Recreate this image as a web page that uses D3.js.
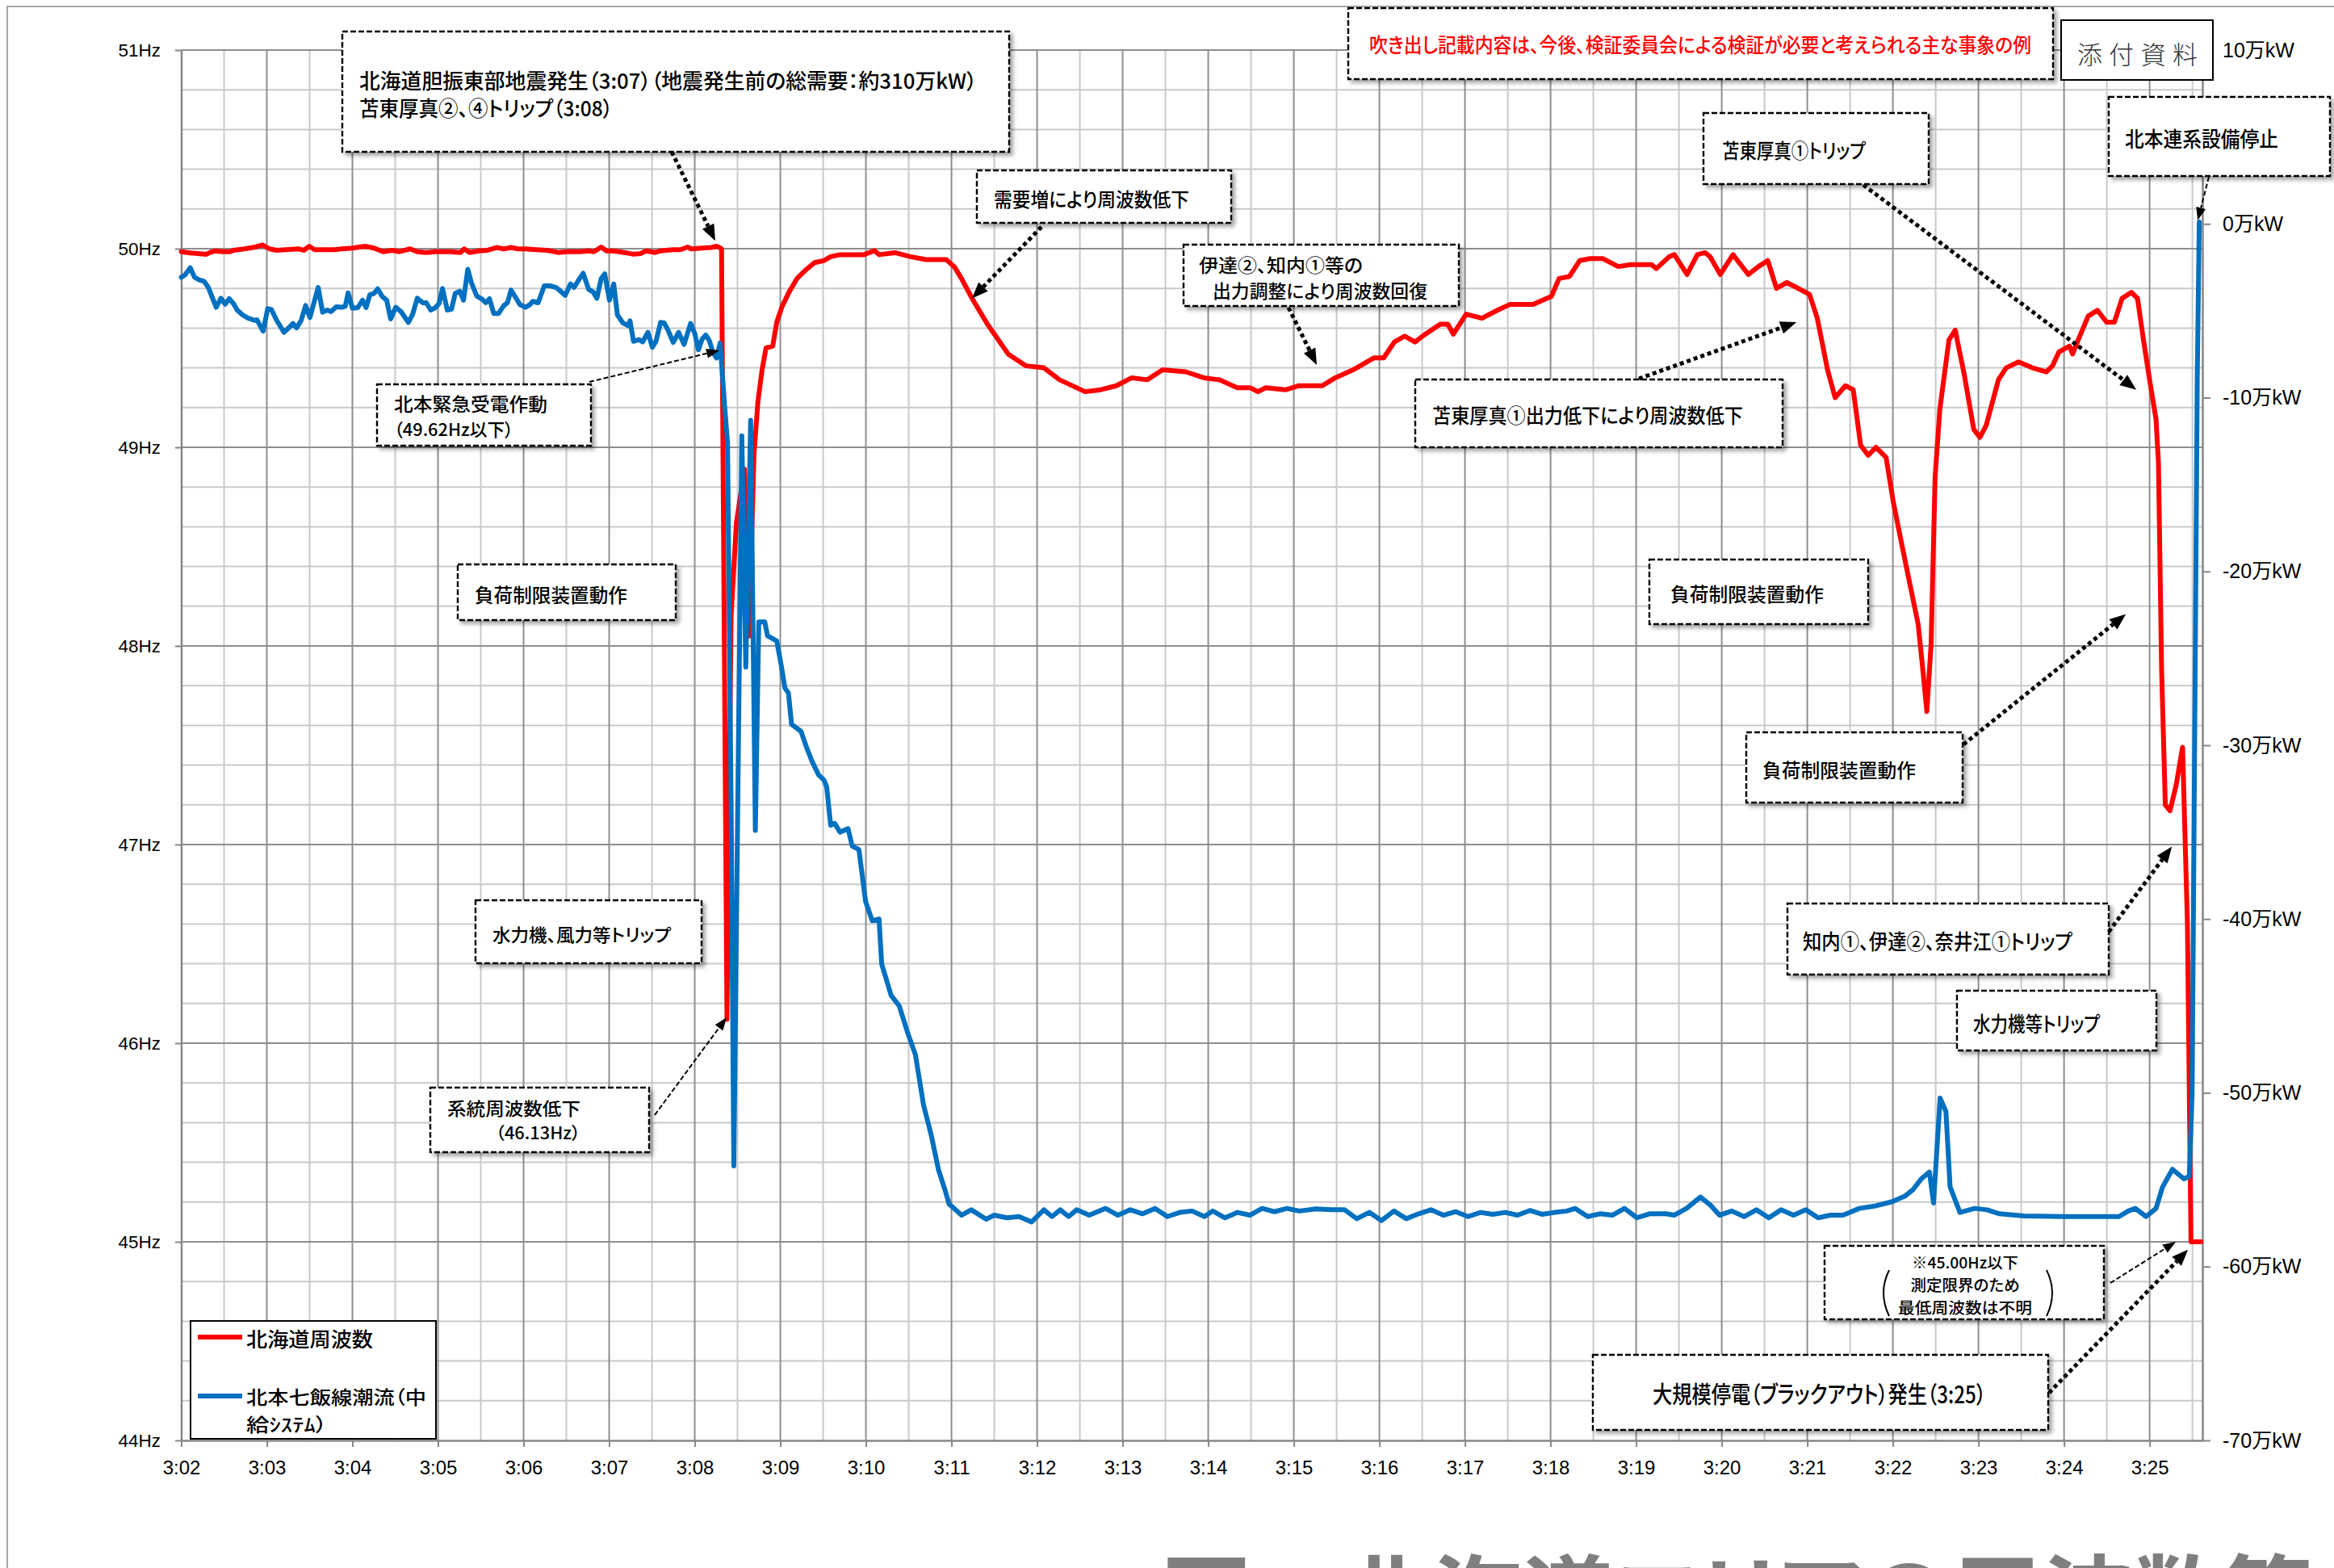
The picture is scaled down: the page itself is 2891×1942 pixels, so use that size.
<!DOCTYPE html>
<html><head><meta charset="utf-8">
<script src="https://cdn.jsdelivr.net/npm/d3@7"></script>
<style>
html,body{margin:0;padding:0;background:#fff;}
svg{display:block;}
text{font-family:"Noto Sans CJK JP","Noto Sans",sans-serif;font-feature-settings:"palt";}
.axis text{font-family:"Liberation Sans","Noto Sans CJK JP",sans-serif;fill:#000;font-feature-settings:normal;}
</style></head><body>
<svg id="chart" width="2891" height="1942"></svg>
<script>
// ---------------- DATA ----------------
const startTimeLabel = "3:02:00";
const xTickLabels = ["3:02","3:03","3:04","3:05","3:06","3:07","3:08","3:09","3:10","3:11","3:12","3:13","3:14","3:15","3:16","3:17","3:18","3:19","3:20","3:21","3:22","3:23","3:24","3:25"];
const freqTicks = [44,45,46,47,48,49,50,51];
const flowTicks = [-70,-60,-50,-40,-30,-20,-10,0,10];
const seriesNames = ["北海道周波数","北本七飯線潮流（中給ｼｽﾃﾑ）"];

// [seconds after 3:02:00, Hz]
const freqSeries = [
[0,49.985],[6.3,49.979],[11.4,49.976],[17.7,49.972],[20.2,49.981],[24,49.989],[29.1,49.985],[34.1,49.985],[36.6,49.992],[44.2,49.999],[50.5,50.006],[56.9,50.019],[61.9,49.999],[67,49.992],[73.3,49.995],[82.1,49.999],[85.9,49.992],[89.7,50.012],[93.5,49.995],[99.8,49.995],[107.4,49.995],[112.5,49.999],[120,50.003],[128.9,50.012],[135.2,50.003],[141.5,49.985],[147.8,49.992],[152.9,49.985],[160.5,49.999],[165.5,49.985],[171.8,49.981],[178.2,49.985],[188.3,49.985],[195.8,49.981],[198.4,49.999],[202.2,49.981],[208.5,49.989],[214.8,49.992],[221.1,50.006],[226.2,49.999],[231.2,50.006],[236.3,49.999],[241.3,49.999],[248.9,49.995],[256.5,49.992],[264.1,49.981],[270.4,49.985],[279.2,49.985],[285.6,49.989],[289.3,49.985],[294.4,50.008],[298.2,49.989],[302,49.989],[307,49.985],[312.1,49.979],[317.1,49.972],[322.2,49.976],[326,49.989],[332.3,49.981],[336.1,49.989],[339.9,49.992],[344.9,49.995],[350,49.995],[355,50.008],[357.6,49.999],[365.2,50.003],[371.5,50.006],[375.3,50.012],[377.3,50.006],[378.8,50.0],
[382.6,46.12],[385.5,48.15],[389.2,48.62],[394.9,48.89],[398.1,48.05],[401.5,48.96],[404.3,49.23],[407.2,49.39],[410,49.50],[414.7,49.51],[417.5,49.63],[421.3,49.71],[426,49.78],[431.7,49.85],[437.4,49.89],[444,49.93],[450.6,49.94],[455.3,49.96],[461.9,49.97],[467.9,49.97],[478.6,49.97],[486,49.99],[489.3,49.97],[500.3,49.98],[511.2,49.96],[522,49.945],[536.3,49.945],[541.9,49.91],[547,49.85],[554.4,49.75],[565.2,49.62],[579.7,49.47],[592.3,49.41],[604.8,49.40],[615.8,49.34],[633.7,49.28],[644.7,49.29],[655.6,49.31],[666.4,49.35],[677.3,49.34],[688,49.39],[704.3,49.38],[716.9,49.35],[727.7,49.34],[740.4,49.30],[749.4,49.30],[754.8,49.28],[760.3,49.30],[774.6,49.29],[783.7,49.31],[800,49.31],[809,49.35],[821.6,49.39],[836,49.45],[843,49.45],[850.5,49.53],[857.7,49.56],[865,49.53],[870.3,49.56],[882.7,49.62],[888,49.62],[891.8,49.57],[900.8,49.67],[911.9,49.65],[922.7,49.69],[931.7,49.72],[947.8,49.72],[960.6,49.76],[966,49.85],[973.2,49.86],[980.4,49.94],[987.7,49.95],[996.7,49.95],[1007.4,49.91],[1016.3,49.92],[1030.7,49.92],[1034.2,49.90],[1043.2,49.96],[1046.8,49.97],[1055.7,49.87],[1062.9,49.97],[1068.3,49.98],[1071.8,49.96],[1079,49.87],[1087.9,49.97],[1098.7,49.87],[1105.8,49.91],[1112.3,49.94],[1118.4,49.80],[1125.6,49.83],[1131,49.81],[1141.6,49.77],[1147,49.65],[1154.2,49.39],[1159.5,49.25],[1166.7,49.31],[1172.2,49.29],[1177.4,49.01],[1182.7,48.96],[1188.1,49.00],[1195.2,48.95],[1200.4,48.72],[1209.1,48.41],[1217.7,48.11],[1221,47.88],[1223.8,47.67],[1226.8,48.01],[1229.6,48.85],[1232.9,49.19],[1239.3,49.54],[1243.7,49.59],[1250.2,49.36],[1256.7,49.09],[1261,49.05],[1265.4,49.11],[1274,49.34],[1279.4,49.40],[1288.1,49.43],[1297.8,49.40],[1307.6,49.38],[1311.9,49.41],[1316.4,49.48],[1323.8,49.51],[1326,49.47],[1329.3,49.53],[1336.9,49.66],[1343.4,49.69],[1349.8,49.63],[1355.3,49.63],[1360.7,49.75],[1367.2,49.78],[1371.5,49.75],[1375.9,49.53],[1380.2,49.33],[1384.5,49.14],[1386.2,48.92],[1388.4,47.88],[1391,47.20],[1394.3,47.17],[1398.6,47.30],[1403.1,47.49],[1406.5,46.60],[1409,45.00],[1416,45.00]
];

// [seconds after 3:02:00, 万kW]
const flowSeries = [
[0,-3.07],[2.5,-2.95],[6.3,-2.53],[9.3,-3.07],[12.6,-3.22],[15.9,-3.30],[19,-3.66],[24.5,-4.80],[27.8,-4.28],[30.8,-4.62],[33.6,-4.31],[36.6,-4.59],[39.2,-4.96],[43,-5.24],[46.7,-5.42],[51.3,-5.55],[53.1,-5.52],[57.4,-6.17],[60.6,-4.88],[63.2,-4.93],[66.9,-5.55],[72,-6.24],[76.6,-5.89],[78.3,-5.73],[80.9,-5.98],[84.1,-5.55],[87.2,-4.70],[90.2,-5.39],[96,-3.66],[99.1,-5.08],[102.4,-4.96],[104.9,-5.05],[108.7,-4.77],[112.5,-4.80],[115,-4.74],[117,-3.97],[120,-4.85],[123.8,-4.82],[127.1,-4.39],[129.6,-4.82],[132.2,-4.08],[135.2,-4.00],[137.7,-3.74],[141,-4.19],[144,-4.39],[146.8,-5.47],[150.4,-4.80],[154.1,-5.05],[159.2,-5.67],[162.2,-5.21],[165.5,-4.28],[169.3,-4.54],[171.8,-4.54],[174.9,-4.96],[178.2,-4.82],[180.7,-4.59],[183.2,-3.72],[186.5,-4.96],[189.5,-4.90],[192.1,-4.00],[195.3,-3.88],[197.9,-4.39],[200.9,-2.61],[203.4,-3.38],[207.2,-4.15],[211,-4.34],[213.5,-4.54],[216.1,-4.31],[219.1,-5.16],[222.4,-5.16],[226.2,-4.70],[228.7,-4.54],[231.2,-3.81],[235,-4.31],[237.5,-4.65],[241.3,-4.80],[244.4,-4.65],[246.4,-4.46],[250.2,-4.54],[254.5,-3.57],[259,-3.57],[262.8,-3.66],[266.6,-3.92],[269.1,-4.12],[272.9,-3.46],[275.4,-3.66],[278.7,-3.22],[281.8,-2.84],[285.6,-3.77],[288.8,-3.92],[291.4,-4.28],[294.4,-3.15],[296.9,-2.88],[300.2,-4.39],[303.2,-3.46],[305.8,-5.24],[309.6,-5.70],[313.3,-5.86],[314.6,-5.58],[317.1,-6.76],[320.9,-6.66],[323.5,-6.79],[327.2,-6.24],[330.3,-7.10],[332.8,-6.76],[336.1,-5.67],[338.6,-5.70],[341.1,-6.09],[344.9,-6.82],[348.7,-6.24],[352.5,-6.94],[357.1,-5.73],[360.1,-6.32],[362.6,-7.25],[365.2,-6.63],[367.7,-6.40],[370.2,-6.71],[372.8,-7.41],[375.3,-7.72],[377.8,-6.86],
[380.8,-10.3],[383,-12.6],[385.5,-33.4],[387.4,-54.2],[393,-12.2],[395.8,-25.5],[399.2,-11.3],[402.5,-34.9],[404.9,-22.9],[409.1,-22.9],[411,-23.7],[417.5,-24.0],[420.4,-25.3],[423.2,-26.7],[425.7,-27.0],[427.9,-28.8],[434.5,-29.2],[438.3,-30.1],[442.1,-30.9],[446.8,-31.7],[450.6,-32.0],[452.5,-32.4],[455.3,-34.6],[458.1,-34.5],[461.9,-35.0],[467.5,-34.8],[470.4,-35.8],[475.1,-36.0],[479.8,-39.0],[484.5,-40.1],[489.2,-40.0],[491.1,-42.6],[497.7,-44.4],[503.4,-45.0],[509.1,-46.5],[514.7,-47.8],[520.4,-50.7],[526,-52.5],[530.8,-54.4],[535.5,-55.6],[538.3,-56.4],[541.1,-56.6],[547,-57.04],
[553.9,-56.73],[564.3,-57.27],[570,-57.04],[578.8,-57.19],[587.4,-57.12],[596.1,-57.43],[604.8,-56.73],[610.5,-57.12],[616.3,-56.73],[622.1,-57.12],[627.8,-56.73],[636.5,-57.04],[648,-56.65],[656.7,-57.04],[665.4,-56.73],[674,-56.96],[682.7,-56.65],[691.4,-57.12],[700,-56.88],[708.7,-56.80],[717.3,-57.12],[723.1,-56.80],[731.8,-57.19],[740.5,-56.88],[749.2,-57.04],[757.8,-56.65],[766.5,-56.84],[775.2,-56.65],[783.8,-56.80],[795.4,-56.68],[806.9,-56.73],[815.6,-56.73],[824.2,-57.24],[832.9,-56.88],[841.5,-57.35],[850.2,-56.80],[858.9,-57.24],[867.5,-56.96],[876.2,-56.73],[884.9,-57.04],[893.5,-56.84],[902.2,-57.12],[910.9,-56.88],[919.5,-56.99],[928.2,-56.88],[936.8,-57.04],[945.5,-56.77],[954,-56.99],[962.8,-56.88],[971.5,-56.80],[977.3,-56.65],[986,-57.12],[994.6,-56.96],[1003.3,-57.04],[1011.8,-56.65],[1020.6,-57.19],[1029.3,-56.96],[1040.8,-56.96],[1046.6,-57.04],[1055.3,-56.65],[1065.1,-56.00],[1072.6,-56.50],[1078.4,-57.04],[1087,-56.80],[1095.7,-57.12],[1104.3,-56.73],[1113,-57.19],[1121.6,-56.73],[1130.3,-57.04],[1139,-56.73],[1147.6,-57.19],[1156.3,-57.04],[1165,-57.04],[1176.5,-56.65],[1188.1,-56.50],[1199.6,-56.26],[1208.3,-55.95],[1214.1,-55.57],[1219.9,-54.95],[1225.6,-54.56],[1228.5,-56.34],[1233.1,-50.30],[1237.2,-51.08],[1240.1,-55.41],[1247,-56.88],[1257.4,-56.65],[1266,-56.73],[1274.7,-56.96],[1292,-57.08],[1320.9,-57.12],[1344,-57.12],[1358.5,-57.12],[1365,-56.80],[1370,-56.65],[1377.5,-57.12],[1384.5,-56.65],[1389.1,-55.41],[1396,-54.40],[1404.1,-54.95],[1407.8,-54.8],[1409.8,-50.0],[1413.4,-8.8],[1414.8,0.1]
];

// annotation texts
const annotationTexts = {
  quake: ["北海道胆振東部地震発生（3:07）（地震発生前の総需要：約310万kW）","苫東厚真②、④トリップ（3:08）"],
  note: ["吹き出し記載内容は、今後、検証委員会による検証が必要と考えられる主な事象の例"],
  attach: ["添付資料"],
  emerg: ["北本緊急受電作動","（49.62Hz以下）"],
  demand: ["需要増により周波数低下"],
  recover: ["伊達②、知内①等の","出力調整により周波数回復"],
  tomato1down: ["苫東厚真①出力低下により周波数低下"],
  tomato1trip: ["苫東厚真①トリップ"],
  hvdc: ["北本連系設備停止"],
  loadL: ["負荷制限装置動作"],
  hydroL: ["水力機、風力等トリップ"],
  freqDrop: ["系統周波数低下","（46.13Hz）"],
  loadR1: ["負荷制限装置動作"],
  loadR2: ["負荷制限装置動作"],
  trips: ["知内①、伊達②、奈井江①トリップ"],
  hydroR: ["水力機等トリップ"],
  limit: ["※45.00Hz以下","測定限界のため","最低周波数は不明"],
  blackout: ["大規模停電（ブラックアウト）発生（3:25）"]
};
const footerTitle = "図　北海道エリアの周波数等の推移";

// ---------------- LAYOUT ----------------
const svg = d3.select("#chart");
const x = d3.scaleLinear().domain([0,1417]).range([224.5,2728]);
const yF = d3.scaleLinear().domain([44,51]).range([1784,62]);
const yP = d3.scaleLinear().domain([-70,10]).range([1784,62]);

const defs = svg.append("defs");
const flt = defs.append("filter").attr("id","shadow").attr("x","-10%").attr("y","-20%").attr("width","125%").attr("height","150%");
flt.append("feDropShadow").attr("dx",4).attr("dy",4).attr("stdDeviation",2.5).attr("flood-color","#000").attr("flood-opacity",0.35);

svg.append("rect").attr("width",2891).attr("height",1942).attr("fill","#fff");
svg.append("path").attr("d","M9,1942 V8 H2891").attr("fill","none").attr("stroke","#a6a6a6").attr("stroke-width",2);

// footer (cut-off slide title)
svg.append("text").attr("x",1438).attr("y",2020).style("font-size","112px").attr("font-weight","bold")
  .attr("fill","#7f7f7f").text(footerTitle);

// grid
const grid = svg.append("g");
const vLines = d3.range(30,1417,30);
const hVals = d3.range(1,35).map(i=>+(44+i*0.2).toFixed(1));
const isMajorH = v => Math.abs(v-Math.round(v))<1e-6;
grid.selectAll(".vmin").data(vLines.filter(t=>t%60!==0)).join("line")
  .attr("x1",d=>x(d)).attr("x2",d=>x(d)).attr("y1",yF(51)).attr("y2",yF(44))
  .attr("stroke","#c9c9c9").attr("stroke-width",2);
grid.selectAll(".hmin").data(hVals.filter(v=>!isMajorH(v))).join("line")
  .attr("x1",x(0)).attr("x2",x(1417)).attr("y1",d=>yF(d)).attr("y2",d=>yF(d))
  .attr("stroke","#c9c9c9").attr("stroke-width",2);
grid.selectAll(".vmaj").data(vLines.filter(t=>t%60===0)).join("line")
  .attr("x1",d=>x(d)).attr("x2",d=>x(d)).attr("y1",yF(51)).attr("y2",yF(44))
  .attr("stroke","#8e8e8e").attr("stroke-width",2);
grid.selectAll(".hmaj").data(freqTicks.filter(v=>v>44)).join("line")
  .attr("x1",x(0)).attr("x2",x(1417)).attr("y1",d=>yF(d)).attr("y2",d=>yF(d))
  .attr("stroke","#8e8e8e").attr("stroke-width",2);

// axes
function styleAxis(g,fs){
  g.attr("class","axis").attr("font-size",null);
  g.select(".domain").attr("stroke","#868686").attr("stroke-width",2.5);
  g.selectAll(".tick line").attr("stroke","#868686").attr("stroke-width",2);
  g.selectAll(".tick text").style("font-size",fs+"px");
}
const xTickVals = xTickLabels.map((d,i)=>i*60);
svg.append("g").attr("transform","translate(0,1784)")
  .call(d3.axisBottom(x).tickValues(xTickVals).tickFormat((d,i)=>xTickLabels[i]).tickSize(8).tickPadding(17).tickSizeOuter(0))
  .call(g=>styleAxis(g,24));
svg.append("g").attr("transform","translate(224.5,0)")
  .call(d3.axisLeft(yF).tickValues(freqTicks).tickFormat(d=>d+"Hz").tickSize(7.5).tickPadding(18).tickSizeOuter(0))
  .call(g=>styleAxis(g,22.5));
svg.append("g").attr("transform","translate(2728,0)")
  .call(d3.axisRight(yP).tickValues(flowTicks).tickFormat(d=>d+"万kW").tickSize(10).tickPadding(15).tickSizeOuter(0))
  .call(g=>styleAxis(g,25));

// series
const redColor="#FF0000", blueColor="#0070C0";
svg.append("path").datum(freqSeries)
  .attr("d",d3.line().x(d=>x(d[0])).y(d=>yF(d[1])))
  .attr("fill","none").attr("stroke",redColor).attr("stroke-width",6)
  .attr("stroke-linejoin","round").attr("stroke-linecap","round");
svg.append("path").datum(flowSeries)
  .attr("d",d3.line().x(d=>x(d[0])).y(d=>yP(d[1])))
  .attr("fill","none").attr("stroke",blueColor).attr("stroke-width",6)
  .attr("stroke-linejoin","round").attr("stroke-linecap","round");

// text helper
function txt(g,s,o){
  const t = g.append("text").attr("x",o.x).attr("y",o.y).style("font-size",o.fs+"px")
    .attr("dominant-baseline","central").attr("fill",o.fill||"#000")
    .attr("text-anchor",o.anchor||"start").text(s);
  if(o.w){ t.attr("textLength",o.w).attr("lengthAdjust",o.adj||"spacingAndGlyphs"); }
  t.attr("font-weight",o.weight||500);
  return t;
}

// legend
const lg = svg.append("g");
lg.append("rect").attr("x",236).attr("y",1636).attr("width",304).attr("height",146)
  .attr("fill","#fff").attr("stroke","#000").attr("stroke-width",2);
lg.append("line").attr("x1",245).attr("x2",300).attr("y1",1656).attr("y2",1656).attr("stroke",redColor).attr("stroke-width",6);
lg.append("line").attr("x1",245).attr("x2",300).attr("y1",1729).attr("y2",1729).attr("stroke",blueColor).attr("stroke-width",6);
txt(lg,seriesNames[0],{x:305,y:1657,fs:25,w:157});
txt(lg,seriesNames[1].slice(0,9),{x:305,y:1729,fs:23,w:223});
txt(lg,seriesNames[1].slice(9),{x:305,y:1763,fs:23,w:100});

// annotations
const ag = svg.append("g");
function box(b,dashed){
  ag.append("rect").attr("x",b[0]).attr("y",b[1]).attr("width",b[2]-b[0]).attr("height",b[3]-b[1])
    .attr("fill","#fff").attr("stroke","#000").attr("stroke-width",dashed?2.4:2)
    .attr("stroke-dasharray",dashed?"7 3":null).attr("filter",dashed?"url(#shadow)":null);
}
function arrow(from,tip,dotted){
  const dx=tip[0]-from[0], dy=tip[1]-from[1], L=Math.hypot(dx,dy);
  const ux=dx/L, uy=dy/L, len=dotted?20:16, wid=dotted?16:12;
  const bx=tip[0]-ux*len, by=tip[1]-uy*len;
  ag.append("line").attr("x1",from[0]).attr("y1",from[1]).attr("x2",bx).attr("y2",by)
    .attr("stroke","#000").attr("stroke-width",dotted?5:2).attr("stroke-dasharray",dotted?"5 4":"6 3");
  ag.append("polygon").attr("points",[[tip[0],tip[1]],[bx-uy*wid/2,by+ux*wid/2],[bx+uy*wid/2,by-ux*wid/2]].map(p=>p.join(",")).join(" "))
    .attr("fill","#000");
}
const F = (t,v)=>[x(t),yF(v)], P=(t,v)=>[x(t),yP(v)];
const T = annotationTexts;

box([424,39,1250,188],true);
txt(ag,T.quake[0],{x:445,y:98,fs:26,w:765});
txt(ag,T.quake[1],{x:445,y:132,fs:26,w:314});
arrow([832,188],F(374.4,50.04),true);

box([1670,10,2543,98],true);
txt(ag,T.note[0],{x:1696,y:54,fs:25,w:820,fill:"#FF0000"});

box([2553,25,2741,99],false);
txt(ag,T.attach[0],{x:2573,y:65,fs:31,w:149,adj:"spacing",fill:"#333",weight:300});

box([467,476,732,552],true);
txt(ag,T.emerg[0],{x:488,y:499,fs:23,w:190});
txt(ag,T.emerg[1],{x:488,y:530,fs:22,w:148});
arrow([730,473],P(377.3,-7.28),false);

box([1210,211,1525,276],true);
txt(ag,T.demand[0],{x:1231,y:245,fs:24,w:242});
arrow([1290,281],F(554.4,49.75),true);

box([1466,303,1807,379],true);
txt(ag,T.recover[0],{x:1485,y:327,fs:23,w:203});
txt(ag,T.recover[1],{x:1502,y:359,fs:23,w:266});
arrow([1596,381],F(796.1,49.415),true);

box([1753,470,2208,554],true);
txt(ag,T.tomato1down[0],{x:1774,y:513,fs:25,w:385});
arrow([2030,469],F(1132.4,49.63),true);

box([2110,140,2389,228],true);
txt(ag,T.tomato1trip[0],{x:2133,y:185,fs:25,w:178});
arrow([2308,229],F(1370.7,49.29),true);

box([2612,120,2886,218],true);
txt(ag,T.hvdc[0],{x:2632,y:170,fs:26,w:190});
arrow([2736,219],P(1413.7,0.2),false);

box([567,699,837,768],true);
txt(ag,T.loadL[0],{x:588,y:735,fs:24,w:189});

box([589,1115,869,1193],true);
txt(ag,T.hydroL[0],{x:610,y:1156,fs:22,w:221});

box([533,1347,804,1427],true);
txt(ag,T.freqDrop[0],{x:554,y:1371,fs:22,w:165});
txt(ag,T.freqDrop[1],{x:614,y:1402,fs:21,w:105});
arrow([811,1381],F(382.4,46.13),false);

box([2043,693,2314,773],true);
txt(ag,T.loadR1[0],{x:2069,y:734,fs:24,w:190});

box([2163,907,2431,994],true);
txt(ag,T.loadR2[0],{x:2183,y:952,fs:24,w:190});
arrow([2432,922],F(1363.3,48.16),true);

box([2214,1119,2612,1207],true);
txt(ag,T.trips[0],{x:2233,y:1164,fs:26,w:334});
arrow([2612,1154],F(1395.6,46.99),true);

box([2424,1227,2671,1301],true);
txt(ag,T.hydroR[0],{x:2444,y:1266,fs:26,w:157});

box([2260,1543,2606,1634],true);
txt(ag,T.limit[0],{x:2434,y:1562,fs:19,w:132,anchor:"middle"});
txt(ag,T.limit[1],{x:2434,y:1590,fs:19,w:135,anchor:"middle"});
txt(ag,T.limit[2],{x:2434,y:1618,fs:19,w:166,anchor:"middle"});
ag.append("path").attr("d","M2340,1573 Q2326,1601 2340,1630").attr("fill","none").attr("stroke","#000").attr("stroke-width",2);
ag.append("path").attr("d","M2535,1573 Q2549,1601 2535,1630").attr("fill","none").attr("stroke","#000").attr("stroke-width",2);
arrow([2614,1589],F(1398.4,45.0),false);

box([1973,1678,2537,1771],true);
txt(ag,T.blackout[0],{x:2047,y:1725,fs:29,w:413});
arrow([2538,1725],F(1406.9,44.96),true);
</script></body></html>
